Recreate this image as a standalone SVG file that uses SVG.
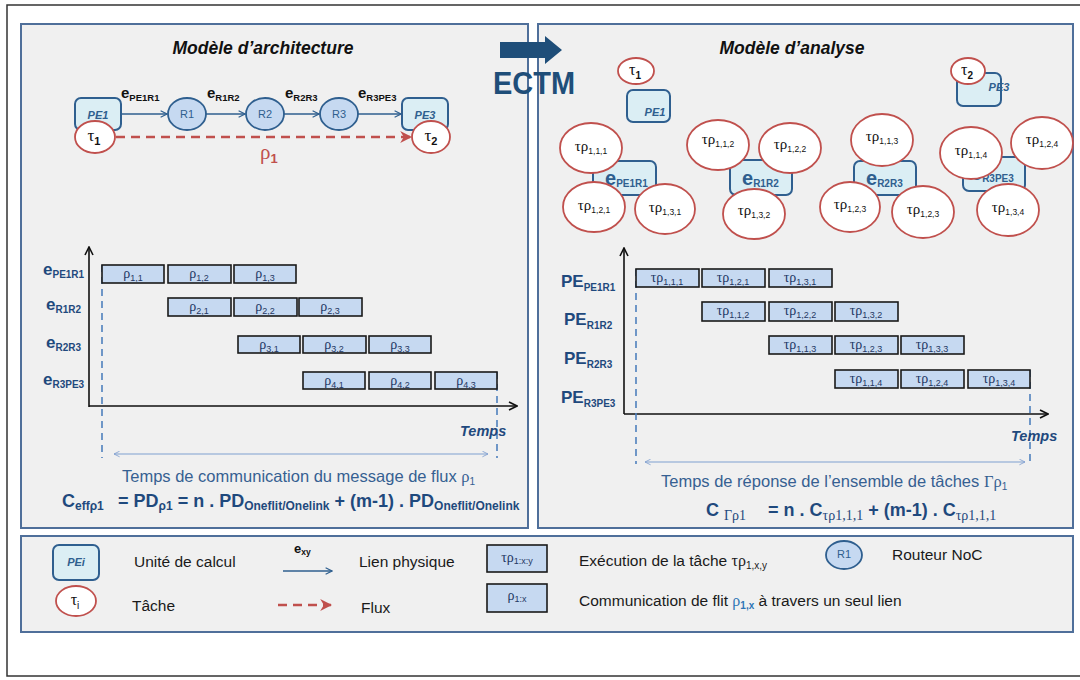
<svg xmlns="http://www.w3.org/2000/svg" width="1080" height="680" viewBox="0 0 1080 680">
<defs>
<marker id="mLink" viewBox="0 0 10 10" refX="9" refY="5" markerWidth="8" markerHeight="8" orient="auto" markerUnits="userSpaceOnUse"><path d="M1,1 L9,5 L1,9" fill="none" stroke="#2f5f8f" stroke-width="1.4"/></marker>
<marker id="mRed" viewBox="0 0 10 10" refX="9" refY="5" markerWidth="12" markerHeight="12" orient="auto" markerUnits="userSpaceOnUse"><path d="M0,0 L10,5 L0,10 L3,5 Z" fill="#c0504d"/></marker>
<marker id="mAxis" viewBox="0 0 10 10" refX="9" refY="5" markerWidth="10" markerHeight="10" orient="auto" markerUnits="userSpaceOnUse"><path d="M1,1 L9,5 L1,9" fill="none" stroke="#111" stroke-width="1.6"/></marker>
<marker id="mDbl" viewBox="0 0 10 10" refX="9" refY="5" markerWidth="7" markerHeight="7" orient="auto-start-reverse" markerUnits="userSpaceOnUse"><path d="M1,1 L9,5 L1,9" fill="none" stroke="#7f9fcf" stroke-width="1.2"/></marker>
</defs>
<style>
text{font-family:"Liberation Sans",Arial,sans-serif}
.panel{fill:#f0f0f0;stroke:#4f6f9a;stroke-width:2}
.pe{fill:#dbeef4;stroke:#2f5f8f;stroke-width:2}
.router{fill:#c6d9f1;stroke:#2f5f8f;stroke-width:1.8}
.task{fill:#fff;stroke:#c0504d;stroke-width:1.8}
.bar{fill:#c6d9f1;stroke:#1a1a1a;stroke-width:1.6}
.pet{font-size:11px;font-weight:bold;font-style:italic;fill:#2f5f8f;text-anchor:middle}
.rt{font-size:11px;fill:#2f5f8f;text-anchor:middle}
.gr{font-family:"Liberation Serif","DejaVu Serif",serif}
.tk{font-size:15px;fill:#111;text-anchor:middle}
.tk tspan.s{font-size:8.5px;font-family:"Liberation Sans",Arial,sans-serif}
.bt{font-size:14px;fill:#1f3864;text-anchor:middle}
.bt tspan.s{font-size:9px;font-family:"Liberation Sans",Arial,sans-serif}
.row{font-size:17px;font-weight:bold;fill:#1f497d}
.row tspan.s{font-size:10px}
.el{font-size:15px;font-weight:bold;fill:#111}
.el tspan.s{font-size:9.5px}
.link{stroke:#2f5f8f;stroke-width:1.3;fill:none;marker-end:url(#mLink)}
.flux{stroke:#c0504d;stroke-width:2.5;fill:none;stroke-dasharray:9,6;marker-end:url(#mRed)}
.axis{stroke:#111;stroke-width:1.6;fill:none;marker-end:url(#mAxis)}
.vdash{stroke:#4f81bd;stroke-width:1.6;stroke-dasharray:7,5;fill:none}
.dbl{stroke:#7f9fcf;stroke-width:1.2;fill:none;marker-start:url(#mDbl);marker-end:url(#mDbl)}
.title{font-size:17.5px;font-weight:bold;font-style:italic;fill:#111;text-anchor:middle}
.temps{font-size:14.5px;font-weight:bold;font-style:italic;fill:#1f497d}
.cap{font-size:16.5px;fill:#366092}
.frm{font-size:18px;font-weight:bold;fill:#1f497d}
.leg{font-size:15.5px;fill:#1a1a1a}
</style>

<rect x="7" y="5" width="1100" height="671" fill="#fff" stroke="#333" stroke-width="1.5"/>

<g id="panel-architecture"><rect class="panel" x="21" y="24" width="507" height="504"/></g>
<g id="panel-analyse"><rect class="panel" x="538" y="24" width="535" height="504"/></g>
<g id="panel-legend"><rect class="panel" x="21" y="536" width="1052" height="96"/></g>

<g id="ectm">
<path d="M500,42 H545 V36 L562,50 L545,64 V58 H500 Z" fill="#1f4e79"/>
<text x="534" y="94" font-size="31" font-weight="bold" fill="#1f4e79" text-anchor="middle" textLength="82" lengthAdjust="spacingAndGlyphs">ECTM</text>
</g>

<!-- LEFT: architecture -->
<text class="title" x="263" y="54">Modèle d’architecture</text>

<g id="connectors-arch">
<line class="link" x1="121" y1="114" x2="167" y2="114"/>
<line class="link" x1="206" y1="114" x2="245" y2="114"/>
<line class="link" x1="284" y1="114" x2="319" y2="114"/>
<line class="link" x1="358" y1="114" x2="401" y2="114"/>
<line class="flux" x1="116" y1="137" x2="411" y2="137"/>
<text class="el" x="121" y="98">e<tspan class="s" dy="3">PE1R1</tspan></text>
<text class="el" x="207" y="98">e<tspan class="s" dy="3">R1R2</tspan></text>
<text class="el" x="285" y="98">e<tspan class="s" dy="3">R2R3</tspan></text>
<text class="el" x="358" y="98">e<tspan class="s" dy="3">R3PE3</tspan></text>
<text x="260" y="159" font-size="21" fill="#c0504d"><tspan class="gr">ρ</tspan><tspan font-size="13" font-weight="bold" dy="4">1</tspan></text>
</g>

<g id="node-PE1"><rect class="pe" x="75" y="98" width="46" height="32" rx="6"/><text class="pet" x="98" y="119">PE1</text></g>
<g id="node-R1"><ellipse class="router" cx="187" cy="114" rx="19" ry="16"/><text class="rt" x="187" y="118">R1</text></g>
<g id="node-R2"><ellipse class="router" cx="265" cy="114" rx="19" ry="16"/><text class="rt" x="265" y="118">R2</text></g>
<g id="node-R3"><ellipse class="router" cx="339" cy="114" rx="19" ry="16"/><text class="rt" x="339" y="118">R3</text></g>
<g id="node-PE3"><rect class="pe" x="402" y="98" width="46" height="32" rx="6"/><text class="pet" x="425" y="119">PE3</text></g>
<g id="node-tau1"><ellipse class="task" cx="95" cy="137" rx="20" ry="16"/><text x="94" y="141" font-size="17" fill="#111" text-anchor="middle"><tspan class="gr">τ</tspan><tspan font-size="11" font-weight="bold" dy="4">1</tspan></text></g>
<g id="node-tau2"><ellipse class="task" cx="431" cy="137" rx="19" ry="16"/><text x="431" y="141" font-size="17" fill="#111" text-anchor="middle"><tspan class="gr">τ</tspan><tspan font-size="11" font-weight="bold" dy="4">2</tspan></text></g>

<!-- LEFT timeline -->
<g id="timeline-left">
<line class="axis" x1="89" y1="407" x2="89" y2="247"/>
<line class="axis" x1="89" y1="406" x2="517" y2="406"/>
<text class="row" x="43" y="275">e<tspan class="s" dy="3">PE1R1</tspan></text>
<text class="row" x="46" y="310">e<tspan class="s" dy="3">R1R2</tspan></text>
<text class="row" x="46" y="348">e<tspan class="s" dy="3">R2R3</tspan></text>
<text class="row" x="43" y="385">e<tspan class="s" dy="3">R3PE3</tspan></text>
<line class="vdash" x1="102" y1="265" x2="102" y2="458"/>
<line class="vdash" x1="497" y1="372" x2="497" y2="458"/>

<rect class="bar" x="102" y="265" width="62" height="18"/><text class="bt" x="133" y="278"><tspan class="gr">ρ</tspan><tspan class="s" dy="3">1,1</tspan></text>
<rect class="bar" x="168" y="265" width="63" height="18"/><text class="bt" x="199" y="278"><tspan class="gr">ρ</tspan><tspan class="s" dy="3">1,2</tspan></text>
<rect class="bar" x="234" y="265" width="62" height="18"/><text class="bt" x="265" y="278"><tspan class="gr">ρ</tspan><tspan class="s" dy="3">1,3</tspan></text>

<rect class="bar" x="168" y="298" width="63" height="18"/><text class="bt" x="199" y="311"><tspan class="gr">ρ</tspan><tspan class="s" dy="3">2,1</tspan></text>
<rect class="bar" x="234" y="298" width="63" height="18"/><text class="bt" x="265" y="311"><tspan class="gr">ρ</tspan><tspan class="s" dy="3">2,2</tspan></text>
<rect class="bar" x="299" y="298" width="63" height="18"/><text class="bt" x="330" y="311"><tspan class="gr">ρ</tspan><tspan class="s" dy="3">2,3</tspan></text>

<rect class="bar" x="238" y="336" width="62" height="17"/><text class="bt" x="269" y="349"><tspan class="gr">ρ</tspan><tspan class="s" dy="3">3,1</tspan></text>
<rect class="bar" x="303" y="336" width="63" height="17"/><text class="bt" x="334" y="349"><tspan class="gr">ρ</tspan><tspan class="s" dy="3">3,2</tspan></text>
<rect class="bar" x="369" y="336" width="62" height="17"/><text class="bt" x="400" y="349"><tspan class="gr">ρ</tspan><tspan class="s" dy="3">3,3</tspan></text>

<rect class="bar" x="303" y="372" width="62" height="17"/><text class="bt" x="334" y="385"><tspan class="gr">ρ</tspan><tspan class="s" dy="3">4,1</tspan></text>
<rect class="bar" x="369" y="372" width="62" height="17"/><text class="bt" x="400" y="385"><tspan class="gr">ρ</tspan><tspan class="s" dy="3">4,2</tspan></text>
<rect class="bar" x="435" y="372" width="62" height="17"/><text class="bt" x="466" y="385"><tspan class="gr">ρ</tspan><tspan class="s" dy="3">4,3</tspan></text>

<text class="temps" x="460" y="436">Temps</text>
<line class="dbl" x1="114" y1="454" x2="488" y2="454"/>
<text class="cap" x="122" y="482">Temps de communication du message de flux <tspan class="gr">ρ</tspan><tspan font-size="10" dy="3">1</tspan></text>
<text class="frm" x="62" y="507">C<tspan font-size="12" dy="3">effρ1</tspan></text>
<text class="frm" x="118" y="507">= PD<tspan font-size="12" dy="3">ρ1</tspan><tspan dy="-3"> = n . PD</tspan><tspan font-size="12" dy="3">Oneflit/Onelink</tspan><tspan dy="-3"> + (m-1) . PD</tspan><tspan font-size="12" dy="3">Oneflit/Onelink</tspan></text>
</g>

<!-- RIGHT: analyse -->
<text class="title" x="792" y="54">Modèle d’analyse</text>

<g id="node-PE1-a"><rect class="pe" x="627" y="90" width="43" height="32" rx="6"/><text class="pet" x="655" y="116">PE1</text></g>
<g id="node-tau1-a"><ellipse class="task" cx="636" cy="71" rx="18" ry="13"/><text x="635" y="75" font-size="16" fill="#111" text-anchor="middle"><tspan class="gr">τ</tspan><tspan font-size="10" font-weight="bold" dy="4">1</tspan></text></g>
<g id="node-PE3-a"><rect class="pe" x="957" y="73" width="44" height="33" rx="6"/><text class="pet" x="999" y="91">PE3</text></g>
<g id="node-tau2-a"><ellipse class="task" cx="968" cy="71" rx="17" ry="13"/><text x="967" y="75" font-size="16" fill="#111" text-anchor="middle"><tspan class="gr">τ</tspan><tspan font-size="10" font-weight="bold" dy="4">2</tspan></text></g>

<g id="node-ePE1R1"><rect class="pe" x="593" y="161" width="63" height="34" rx="6"/><text x="605" y="185" font-size="20" font-weight="bold" fill="#2f5f8f">e<tspan font-size="10" dy="2">PE1R1</tspan></text></g>
<g id="node-eR1R2"><rect class="pe" x="730" y="160" width="62" height="35" rx="6"/><text x="742" y="185" font-size="20" font-weight="bold" fill="#2f5f8f">e<tspan font-size="10" dy="2">R1R2</tspan></text></g>
<g id="node-eR2R3"><rect class="pe" x="854" y="161" width="62" height="34" rx="6"/><text x="866" y="185" font-size="20" font-weight="bold" fill="#2f5f8f">e<tspan font-size="10" dy="2">R2R3</tspan></text></g>
<g id="node-eR3PE3"><rect class="pe" x="963" y="157" width="62" height="34" rx="6"/><text x="971" y="180" font-size="20" font-weight="bold" fill="#2f5f8f">e<tspan font-size="10" dy="2">R3PE3</tspan></text></g>

<g id="task-111"><ellipse class="task" cx="591" cy="148" rx="31" ry="25"/><text class="tk" x="591" y="151"><tspan class="gr">τρ</tspan><tspan class="s" dy="3">1,1,1</tspan></text></g>
<g id="task-121"><ellipse class="task" cx="594" cy="207" rx="31" ry="25"/><text class="tk" x="594" y="210"><tspan class="gr">τρ</tspan><tspan class="s" dy="3">1,2,1</tspan></text></g>
<g id="task-131"><ellipse class="task" cx="665" cy="209" rx="30" ry="25"/><text class="tk" x="665" y="212"><tspan class="gr">τρ</tspan><tspan class="s" dy="3">1,3,1</tspan></text></g>
<g id="task-112"><ellipse class="task" cx="718" cy="145" rx="31" ry="25"/><text class="tk" x="718" y="144"><tspan class="gr">τρ</tspan><tspan class="s" dy="3">1,1,2</tspan></text></g>
<g id="task-122"><ellipse class="task" cx="790" cy="148" rx="31" ry="25"/><text class="tk" x="790" y="149"><tspan class="gr">τρ</tspan><tspan class="s" dy="3">1,2,2</tspan></text></g>
<g id="task-132"><ellipse class="task" cx="754" cy="214" rx="31" ry="25"/><text class="tk" x="754" y="215"><tspan class="gr">τρ</tspan><tspan class="s" dy="3">1,3,2</tspan></text></g>
<g id="task-113"><ellipse class="task" cx="882" cy="140" rx="31" ry="26"/><text class="tk" x="882" y="141"><tspan class="gr">τρ</tspan><tspan class="s" dy="3">1,1,3</tspan></text></g>
<g id="task-123a"><ellipse class="task" cx="850" cy="207" rx="30" ry="25"/><text class="tk" x="850" y="209"><tspan class="gr">τρ</tspan><tspan class="s" dy="3">1,2,3</tspan></text></g>
<g id="task-123b"><ellipse class="task" cx="923" cy="212" rx="31" ry="26"/><text class="tk" x="923" y="214"><tspan class="gr">τρ</tspan><tspan class="s" dy="3">1,2,3</tspan></text></g>
<g id="task-114"><ellipse class="task" cx="971" cy="153" rx="31" ry="26"/><text class="tk" x="971" y="155"><tspan class="gr">τρ</tspan><tspan class="s" dy="3">1,1,4</tspan></text></g>
<g id="task-124"><ellipse class="task" cx="1042" cy="143" rx="31" ry="26"/><text class="tk" x="1042" y="144"><tspan class="gr">τρ</tspan><tspan class="s" dy="3">1,2,4</tspan></text></g>
<g id="task-134"><ellipse class="task" cx="1008" cy="210" rx="31" ry="26"/><text class="tk" x="1008" y="212"><tspan class="gr">τρ</tspan><tspan class="s" dy="3">1,3,4</tspan></text></g>

<!-- RIGHT timeline -->
<g id="timeline-right">
<line class="axis" x1="624" y1="414" x2="624" y2="248"/>
<line class="axis" x1="624" y1="414" x2="1048" y2="414"/>
<text class="row" x="561" y="287" font-size="16">PE<tspan class="s" font-size="9" dy="4">PE1R1</tspan></text>
<text class="row" x="564" y="325" font-size="16">PE<tspan class="s" font-size="9" dy="4">R1R2</tspan></text>
<text class="row" x="564" y="364" font-size="16">PE<tspan class="s" font-size="9" dy="4">R2R3</tspan></text>
<text class="row" x="561" y="403" font-size="16">PE<tspan class="s" font-size="9" dy="4">R3PE3</tspan></text>
<line class="vdash" x1="636" y1="269" x2="636" y2="464"/>
<line class="vdash" x1="1030" y1="370" x2="1030" y2="464"/>

<rect class="bar" x="636" y="269" width="63" height="18"/><text class="bt" x="667" y="282"><tspan class="gr">τρ</tspan><tspan class="s" dy="3">1,1,1</tspan></text>
<rect class="bar" x="702" y="269" width="63" height="18"/><text class="bt" x="733" y="282"><tspan class="gr">τρ</tspan><tspan class="s" dy="3">1,2,1</tspan></text>
<rect class="bar" x="769" y="269" width="63" height="18"/><text class="bt" x="800" y="282"><tspan class="gr">τρ</tspan><tspan class="s" dy="3">1,3,1</tspan></text>

<rect class="bar" x="702" y="302" width="63" height="19"/><text class="bt" x="733" y="315"><tspan class="gr">τρ</tspan><tspan class="s" dy="3">1,1,2</tspan></text>
<rect class="bar" x="769" y="302" width="63" height="19"/><text class="bt" x="800" y="315"><tspan class="gr">τρ</tspan><tspan class="s" dy="3">1,2,2</tspan></text>
<rect class="bar" x="835" y="302" width="63" height="19"/><text class="bt" x="866" y="315"><tspan class="gr">τρ</tspan><tspan class="s" dy="3">1,3,2</tspan></text>

<rect class="bar" x="769" y="336" width="63" height="18"/><text class="bt" x="800" y="349"><tspan class="gr">τρ</tspan><tspan class="s" dy="3">1,1,3</tspan></text>
<rect class="bar" x="835" y="336" width="63" height="18"/><text class="bt" x="866" y="349"><tspan class="gr">τρ</tspan><tspan class="s" dy="3">1,2,3</tspan></text>
<rect class="bar" x="901" y="336" width="63" height="18"/><text class="bt" x="932" y="349"><tspan class="gr">τρ</tspan><tspan class="s" dy="3">1,3,3</tspan></text>

<rect class="bar" x="835" y="370" width="63" height="18"/><text class="bt" x="866" y="383"><tspan class="gr">τρ</tspan><tspan class="s" dy="3">1,1,4</tspan></text>
<rect class="bar" x="901" y="370" width="63" height="18"/><text class="bt" x="932" y="383"><tspan class="gr">τρ</tspan><tspan class="s" dy="3">1,2,4</tspan></text>
<rect class="bar" x="968" y="370" width="62" height="18"/><text class="bt" x="999" y="383"><tspan class="gr">τρ</tspan><tspan class="s" dy="3">1,3,4</tspan></text>

<text class="temps" x="1011" y="441" font-size="15.5">Temps</text>
<line class="dbl" x1="645" y1="462" x2="1025" y2="462"/>
<text class="cap" x="661" y="487" font-size="16">Temps de réponse de l’ensemble de tâches <tspan class="gr">Γρ</tspan><tspan font-size="10" dy="3">1</tspan></text>
<text class="frm" x="706" y="516" font-size="21">C <tspan class="gr" font-size="14" font-weight="normal" dy="4">Γρ1</tspan></text>
<text class="frm" x="768" y="516" font-size="20">= n . C<tspan class="gr" font-size="14" font-weight="normal" dy="4">τρ1,1,1</tspan><tspan dy="-4"> + (m-1) . C</tspan><tspan class="gr" font-size="14" font-weight="normal" dy="4">τρ1,1,1</tspan></text>
</g>

<!-- LEGEND -->
<g id="legend">
<g id="leg-pe"><rect class="pe" x="53" y="545" width="46" height="35" rx="6"/><text class="pet" x="76" y="566" font-size="10">PEi</text></g>
<text class="leg" x="134" y="567">Unité de calcul</text>
<g id="leg-task"><ellipse class="task" cx="76" cy="601" rx="20" ry="15"/><text x="75" y="605" font-size="16" fill="#111" text-anchor="middle"><tspan class="gr">τ</tspan><tspan font-size="10" dy="4">i</tspan></text></g>
<text class="leg" x="132" y="611">Tâche</text>
<text x="294" y="553" font-size="13" font-weight="bold" fill="#111">e<tspan font-size="8.5" dy="2">xy</tspan></text>
<line class="link" x1="283" y1="571" x2="332" y2="571"/>
<text class="leg" x="359" y="567">Lien physique</text>
<line class="flux" x1="278" y1="605" x2="331" y2="605" stroke-width="2.2" stroke-dasharray="8,6"/>
<text class="leg" x="361" y="613">Flux</text>
<g id="leg-exec"><rect class="bar" x="487" y="545" width="60" height="27"/><text class="bt" x="517" y="562" font-size="11"><tspan class="gr">τρ</tspan><tspan class="s" font-size="7.5" dy="2">1:x:y</tspan></text></g>
<g id="leg-comm"><rect class="bar" x="487" y="584" width="60" height="28"/><text class="bt" x="517" y="600" font-size="11"><tspan class="gr">ρ</tspan><tspan class="s" font-size="7.5" dy="2">1:x</tspan></text></g>
<text class="leg" x="579" y="566">Exécution de la tâche <tspan class="gr" font-size="16">τρ</tspan><tspan font-size="10" dy="3">1,x,y</tspan></text>
<g id="leg-router"><ellipse class="router" cx="844" cy="555" rx="18" ry="14"/><text class="rt" x="844" y="558" font-size="9">R1</text></g>
<text class="leg" x="892" y="560">Routeur NoC</text>
<text class="leg" x="579" y="606">Communication de flit <tspan class="gr" font-size="16" fill="#2e75b6">ρ</tspan><tspan font-size="10" font-weight="bold" fill="#2e75b6" dy="3">1,x</tspan><tspan dy="-3"> à travers un seul lien</tspan></text>
</g>
</svg>
